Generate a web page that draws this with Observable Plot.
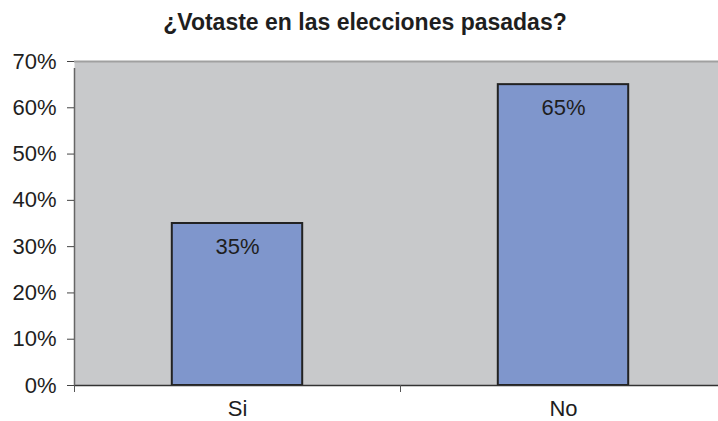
<!DOCTYPE html>
<html>
<head>
<meta charset="utf-8">
<script src="https://cdn.jsdelivr.net/npm/d3@7"></script>
<script src="https://cdn.jsdelivr.net/npm/@observablehq/plot@0.6"></script>
<style>
  body { margin: 0; background: #fff; }
  #wrap { width: 718px; height: 421px; position: relative; font-family: "Liberation Sans", Arial, sans-serif; }
  #title { height: 40px; width: 730px; text-align: center; font-weight: bold; font-size: 23px; line-height: 23px; padding-top: 11px; box-sizing: border-box; color: #1e1e1e; white-space: nowrap; }
</style>
</head>
<body>
<div id="wrap">
  <div id="title">¿Votaste en las elecciones pasadas?</div>
  <div id="chart"></div>
</div>
<script>
const title = "¿Votaste en las elecciones pasadas?";
const categories = ["Si", "No"];
const values = [0.35, 0.65];
const yTicks = [0, 0.1, 0.2, 0.3, 0.4, 0.5, 0.6, 0.7];
const xBoundaries = [0, 1, 2];

const data = categories.map((c, i) => ({category: c, index: i, value: values[i]}));
const pct = d3.format(".0%");

const chart = Plot.plot({
  width: 718,
  height: 381,
  marginLeft: 74,
  marginRight: 0,
  marginTop: 21,
  marginBottom: 36,
  style: { fontFamily: "Liberation Sans, Arial, sans-serif", fontSize: "22px", color: "#1e1e1e", background: "#fff", overflow: "visible" },
  x: { type: "linear", domain: [0, 2], range: [74, 726], axis: null },
  y: { domain: [0, 0.7], axis: null },
  marks: [
    Plot.frame({ fill: "#c8c9cb", stroke: null }),
    Plot.ruleY([0.7], { stroke: "#a0a0a0", strokeWidth: 2 }),
    Plot.rectY(data, {
      x1: d => d.index + 0.3,
      x2: d => d.index + 0.7,
      y1: 0,
      y2: "value",
      fill: "#7f96cc",
      stroke: "#222",
      strokeWidth: 2
    }),
    Plot.ruleY([0], { stroke: "#333", strokeWidth: 1.5 }),
    Plot.ruleX([0], { y1: 0, y2: 0.7, stroke: "#666", strokeWidth: 1.5, insetBottom: -7 }),
    Plot.axisX({ ticks: xBoundaries, tickFormat: () => "", tickSize: 7, stroke: "#555", label: null }),
    Plot.axisY({ ticks: yTicks, tickFormat: pct, tickSize: 7, tickPadding: 11, stroke: "#444", fontSize: 22, label: null }),
    Plot.text(data, {
      x: d => d.index + 0.5,
      y: 0,
      text: "category",
      lineAnchor: "top",
      dy: 15,
      fontSize: 22,
      fill: "#1e1e1e"
    }),
    Plot.text(data, {
      x: d => d.index + 0.5,
      y: "value",
      text: d => pct(d.value),
      dy: 23,
      fontSize: 22,
      fill: "#1e1e1e"
    })
  ]
});
document.getElementById("chart").appendChild(chart);
</script>
</body>
</html>
